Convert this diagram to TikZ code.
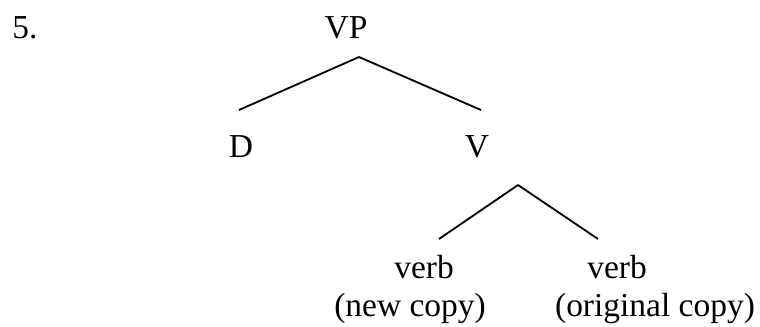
\documentclass[tikz,border=0pt]{standalone}
\usepackage{fontspec}
\setmainfont{Liberation Serif}
\usepackage{tikz}
\usetikzlibrary{positioning}

\begin{document}
\begin{tikzpicture}[
  x=0.025cm, y=-0.025cm,
  every node/.style={font=\fontsize{23.8}{27}\selectfont, inner sep=0pt},
  cat/.style={anchor=base},
  branch/.style={line width=1.3pt}
]
\useasboundingbox (0,0) rectangle (760,327);

% Number
\node[anchor=base west] (num) at (12,39) {5.};

% Top
\node[cat] (vp) at (346,39) {VP};
\coordinate (vpfoot) at (359,57);

% Second level
\node[cat] (d) at (241,158) {D};
\node[cat] (v) at (477,158) {V};
\coordinate (dtop) at (239,110);
\coordinate (vtop) at (481,110);
\coordinate (vfoot) at (518,185);

% Bottom level
\node[cat] (verb1) at (424,278) {verb};
\node[cat] (copy1) at (410,316) {(new copy)};
\node[cat] (verb2) at (617,278) {verb};
\node[cat] (copy2) at (655,316) {(original copy)};
\coordinate (verb1top) at (439,239);
\coordinate (verb2top) at (598,239);

% Branches
\draw[branch] (vpfoot) -- (dtop);
\draw[branch] (vpfoot) -- (vtop);
\draw[branch] (vfoot) -- (verb1top);
\draw[branch] (vfoot) -- (verb2top);

\end{tikzpicture}
\end{document}
